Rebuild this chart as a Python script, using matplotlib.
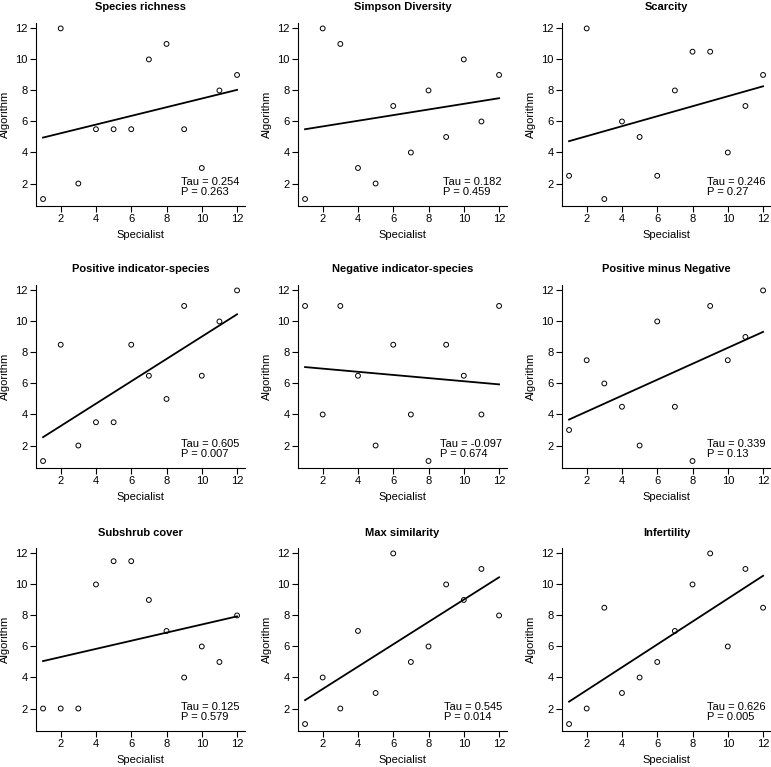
import numpy as np
import matplotlib
matplotlib.use("Agg")
import matplotlib.pyplot as plt

plt.rcParams['font.family'] = ['Liberation Sans', 'DejaVu Sans']

# specialist ranks (x) are the same for every panel
specialist = [1, 2, 3, 4, 5, 6, 7, 8, 9, 10, 11, 12]

titles = ["Species richness", "Simpson Diversity", "Scarcity",
          "Positive indicator-species", "Negative indicator-species", "Positive minus Negative",
          "Subshrub cover", "Max similarity", "Infertility"]

# algorithm ranks
species_richness = [1, 12, 2, 5.5, 5.5, 5.5, 10, 11, 5.5, 3, 8, 9]
simpson = [1, 12, 11, 3, 2, 7, 4, 8, 5, 10, 6, 9]
scarcity = [2.5, 12, 1, 6, 5, 2.5, 8, 10.5, 10.5, 4, 7, 9]
pos_indicator = [1, 8.5, 2, 3.5, 3.5, 8.5, 6.5, 5, 11, 6.5, 10, 12]
neg_indicator = [11, 4, 11, 6.5, 2, 8.5, 4, 1, 8.5, 6.5, 4, 11]
pos_minus_neg = [3, 7.5, 6, 4.5, 2, 10, 4.5, 1, 11, 7.5, 9, 12]
subshrub = [2, 2, 2, 10, 11.5, 11.5, 9, 7, 4, 6, 5, 8]
max_similarity = [1, 4, 2, 7, 3, 12, 5, 6, 10, 9, 11, 8]
infertility = [1, 2, 8.5, 3, 4, 5, 7, 10, 12, 6, 11, 8.5]

taus = ["0.254", "0.182", "0.246", "0.605", "-0.097", "0.339", "0.125", "0.545", "0.626"]
pvals = ["0.263", "0.459", "0.27", "0.007", "0.674", "0.13", "0.579", "0.014", "0.005"]

series = [species_richness, simpson, scarcity, pos_indicator, neg_indicator,
          pos_minus_neg, subshrub, max_similarity, infertility]

W, H = 771, 767
fig = plt.figure(figsize=(W / 100, H / 100), dpi=100)

col_left = [36, 298, 562]
row_top = [23, 285, 548]
ax_w, ax_h = 209, 183

for i, (title, y) in enumerate(zip(titles, series)):
    r, c = divmod(i, 3)
    ax = fig.add_axes([col_left[c] / W, 1 - (row_top[r] + ax_h) / H, ax_w / W, ax_h / H])
    ax.scatter(specialist, y, s=12, facecolors='none', edgecolors='black', linewidths=0.7, zorder=3)
    slope, icpt = np.polyfit(specialist, y, 1)
    xs = np.array([specialist[0], specialist[-1]])
    ax.plot(xs, icpt + slope * xs, color='black', lw=1.3)

    ax.set_xlim(0.6, 12.45)
    ax.set_ylim(0.55, 12.35)
    ax.set_xticks(range(2, 13, 2))
    ax.set_yticks(range(2, 13, 2))
    for s in ['top', 'right']:
        ax.spines[s].set_visible(False)
    for s in ['left', 'bottom']:
        ax.spines[s].set_linewidth(0.8)
    ax.tick_params(direction='out', length=4, width=0.8, labelsize=8, pad=2)
    ax.set_title(title, fontsize=8, fontweight='bold', pad=9)
    ax.set_xlabel("Specialist", fontsize=8, labelpad=4)
    ax.set_ylabel("Algorithm", fontsize=8, labelpad=4)
    ax.text(0.975, 0.104, f"Tau = {taus[i]}\nP = {pvals[i]}", transform=ax.transAxes,
            ha='right', va='center', multialignment='left', fontsize=8, linespacing=1.05)

fig.savefig("out.png", dpi=100)
